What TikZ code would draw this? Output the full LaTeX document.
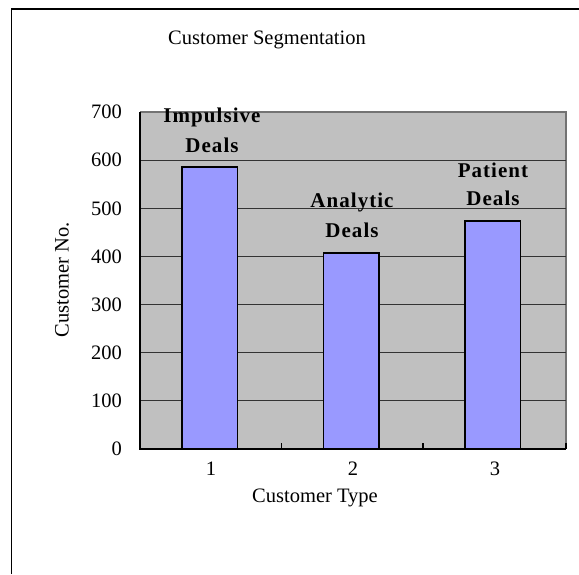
\documentclass[tikz,border=0pt]{standalone}
\usepackage{fontspec}
\setmainfont{Liberation Serif}
\begin{document}
\begin{tikzpicture}[x=1pt,y=-1pt,
  txt/.style={inner sep=0pt,font=\fontsize{20.5}{22}\selectfont},
  barlabel/.style={inner sep=0pt,font=\fontsize{21}{23}\selectfont\bfseries\addfontfeatures{LetterSpace=5}},
  barbox/.style={draw=black,line width=1.5pt,fill=barblue},
  gridline/.style={draw=black!80,line width=0.9pt}]
\definecolor{barblue}{HTML}{9999FF}
\definecolor{plotgray}{HTML}{C0C0C0}
\useasboundingbox (0,0) rectangle (579,574);
% outer frame (left and top edges)
\draw[line width=1.4pt] (11.5,574) -- (11.5,9) -- (579,9);
% plot area
\fill[plotgray] (140,112) rectangle (566,449);
\draw[draw=black!55,line width=1.2pt] (140,112) -- (566,112) -- (566,449);
% data scope: y in data units, origin at value 0
\begin{scope}[shift={(0,449)},y=0.48143pt]
  \foreach \v in {100,200,...,600}
    \draw[gridline] (140,\v) -- (566,\v);
  \draw[barbox] (182,0) rectangle (237.5,586);
  \draw[barbox] (323.5,0) rectangle (379,407);
  \draw[barbox] (465,0) rectangle (520.5,474);
  % axes
  \draw[line width=1.4pt] (140,700) -- (140,0) -- (566,0);
  \foreach \x in {281.5,423,566}
    \draw[line width=1.2pt] (\x,0) -- (\x,13);
  \foreach \v/\n in {0/t0,100/t1,200/t2,300/t3,400/t4,500/t5,600/t6,700/t7}
    \node[txt,anchor=east] (\n) at (122,\v) {\v};
\end{scope}
% titles and labels
\node[txt] (title) at (267,40) {Customer Segmentation};
\node[txt,rotate=90] (ylab) at (62,280) {Customer No.};
\node[txt] (x1) at (211,469) {1};
\node[txt] (x2) at (353,469) {2};
\node[txt] (x3) at (495,469) {3};
\node[txt] (xlab) at (315,498) {Customer Type};
% bar labels
\node[barlabel] (l1a) at (212,117) {Impulsive};
\node[barlabel] (l1b) at (212,145) {Deals};
\node[barlabel] (l2a) at (352,202) {Analytic};
\node[barlabel] (l2b) at (352,230) {Deals};
\node[barlabel] (l3a) at (493,170) {Patient};
\node[barlabel] (l3b) at (493,198) {Deals};
\end{tikzpicture}
\end{document}
